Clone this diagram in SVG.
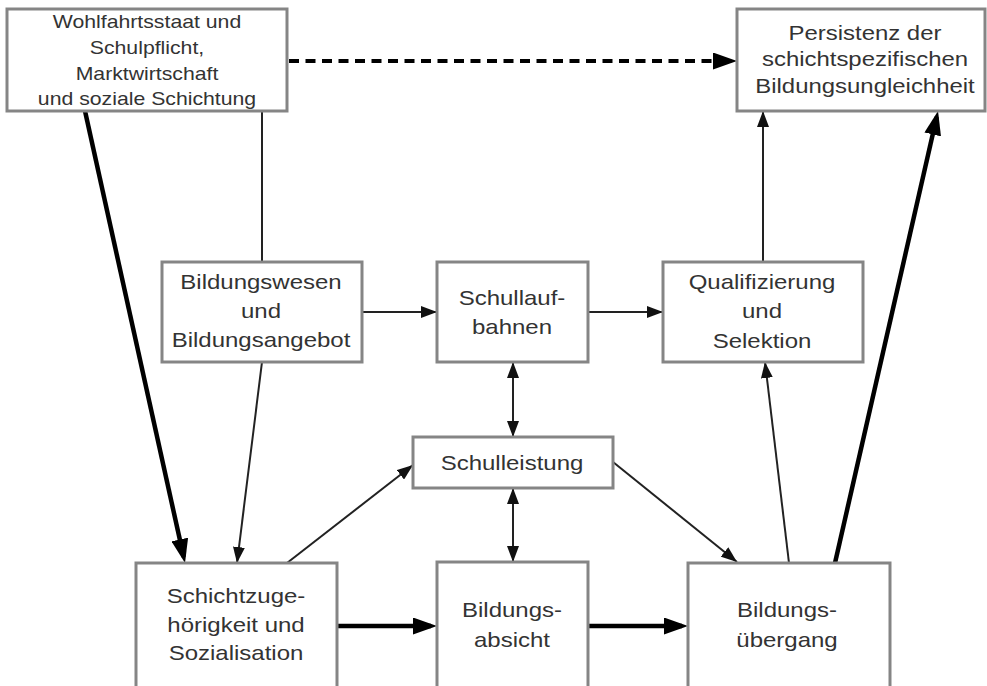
<svg xmlns="http://www.w3.org/2000/svg" width="987" height="686" viewBox="0 0 987 686">
<style>
.box{fill:#fff;stroke:#858585;stroke-width:3}
.t{font-family:"Liberation Sans",Arial,sans-serif;font-size:20px;fill:#333;text-anchor:middle}
.s{font-size:18px}
.p{font-size:21px}
.thin{stroke:#222;stroke-width:2;fill:none}
.thick{stroke:#000;stroke-width:4.5;fill:none}
.dash{stroke:#000;stroke-width:4;stroke-dasharray:10 6.5;fill:none}
</style>
<defs>
<marker id="ah" markerUnits="userSpaceOnUse" markerWidth="16" markerHeight="12" refX="16" refY="6" orient="auto-start-reverse"><path d="M0,0 L16,6 L0,12 z" fill="#111"/></marker>
<marker id="AH" markerUnits="userSpaceOnUse" markerWidth="24" markerHeight="17" refX="18" refY="8.5" orient="auto"><path d="M0,0 L24,8.5 L0,17 z" fill="#000"/></marker>
</defs>
<rect width="987" height="686" fill="#fff"/>
<g id="connectors">
<line class="dash" x1="289" y1="61" x2="731" y2="61" marker-end="url(#AH)"/>
<line class="thick" x1="85" y1="111" x2="183.7" y2="557.1" marker-end="url(#AH)"/>
<line class="thin" x1="262" y1="111" x2="262" y2="262"/>
<line class="thin" x1="262" y1="362" x2="237" y2="563" marker-end="url(#ah)"/>
<line class="thin" x1="362" y1="312" x2="437" y2="312" marker-end="url(#ah)"/>
<line class="thin" x1="588" y1="312" x2="663" y2="312" marker-end="url(#ah)"/>
<line class="thin" x1="513" y1="362" x2="513" y2="437" marker-start="url(#ah)" marker-end="url(#ah)"/>
<line class="thin" x1="513" y1="488" x2="513" y2="562" marker-start="url(#ah)" marker-end="url(#ah)"/>
<line class="thin" x1="287" y1="563" x2="413" y2="465" marker-end="url(#ah)"/>
<line class="thin" x1="613" y1="462" x2="737" y2="562" marker-end="url(#ah)"/>
<line class="thin" x1="789" y1="563" x2="765" y2="362" marker-end="url(#ah)"/>
<line class="thin" x1="763" y1="262" x2="763" y2="111" marker-end="url(#ah)"/>
<line class="thick" x1="835" y1="563" x2="936.7" y2="116.9" marker-end="url(#AH)"/>
<line class="thick" x1="337" y1="626" x2="431" y2="626" marker-end="url(#AH)"/>
<line class="thick" x1="588" y1="626" x2="682" y2="626" marker-end="url(#AH)"/>
</g>
<g id="n-wohlfahrt">
<rect class="box" x="7" y="9" width="280" height="102"/>
<text class="t s" transform="translate(147,28) scale(1.18,1)">Wohlfahrtsstaat und</text>
<text class="t s" transform="translate(147,54) scale(1.18,1)">Schulpflicht,</text>
<text class="t s" transform="translate(147,80) scale(1.18,1)">Marktwirtschaft</text>
<text class="t s" transform="translate(147,105) scale(1.18,1)">und soziale Schichtung</text>
</g>
<g id="n-persistenz">
<rect class="box" x="737" y="9" width="248" height="102"/>
<text class="t p" transform="translate(865,40) scale(1.14,1)">Persistenz der</text>
<text class="t p" transform="translate(865,66) scale(1.14,1)">schichtspezifischen</text>
<text class="t p" transform="translate(865,93) scale(1.14,1)">Bildungsungleichheit</text>
</g>
<g id="n-bildungswesen">
<rect class="box" x="162" y="262" width="200" height="100"/>
<text class="t" transform="translate(261,289) scale(1.2,1)">Bildungswesen</text>
<text class="t" transform="translate(261,318) scale(1.2,1)">und</text>
<text class="t" transform="translate(261,347) scale(1.2,1)">Bildungsangebot</text>
</g>
<g id="n-schullaufbahnen">
<rect class="box" x="437" y="262" width="151" height="100"/>
<text class="t" transform="translate(512,305) scale(1.2,1)">Schullauf-</text>
<text class="t" transform="translate(512,334) scale(1.2,1)">bahnen</text>
</g>
<g id="n-qualifizierung">
<rect class="box" x="663" y="262" width="200" height="100"/>
<text class="t" transform="translate(762,289) scale(1.2,1)">Qualifizierung</text>
<text class="t" transform="translate(762,318) scale(1.2,1)">und</text>
<text class="t" transform="translate(762,348) scale(1.2,1)">Selektion</text>
</g>
<g id="n-schulleistung">
<rect class="box" x="413" y="437" width="200" height="51"/>
<text class="t" transform="translate(512,470) scale(1.2,1)">Schulleistung</text>
</g>
<g id="n-schichtzugehoerigkeit">
<rect class="box" x="136" y="563" width="201" height="140"/>
<text class="t" transform="translate(236,603) scale(1.2,1)">Schichtzuge-</text>
<text class="t" transform="translate(236,632) scale(1.2,1)">hörigkeit und</text>
<text class="t" transform="translate(236,660) scale(1.2,1)">Sozialisation</text>
</g>
<g id="n-bildungsabsicht">
<rect class="box" x="437" y="562" width="151" height="140"/>
<text class="t" transform="translate(512,617) scale(1.2,1)">Bildungs-</text>
<text class="t" transform="translate(512,647) scale(1.2,1)">absicht</text>
</g>
<g id="n-bildungsuebergang">
<rect class="box" x="688" y="563" width="202" height="140"/>
<text class="t" transform="translate(787,617) scale(1.2,1)">Bildungs-</text>
<text class="t" transform="translate(787,647) scale(1.2,1)">übergang</text>
</g>
</svg>
